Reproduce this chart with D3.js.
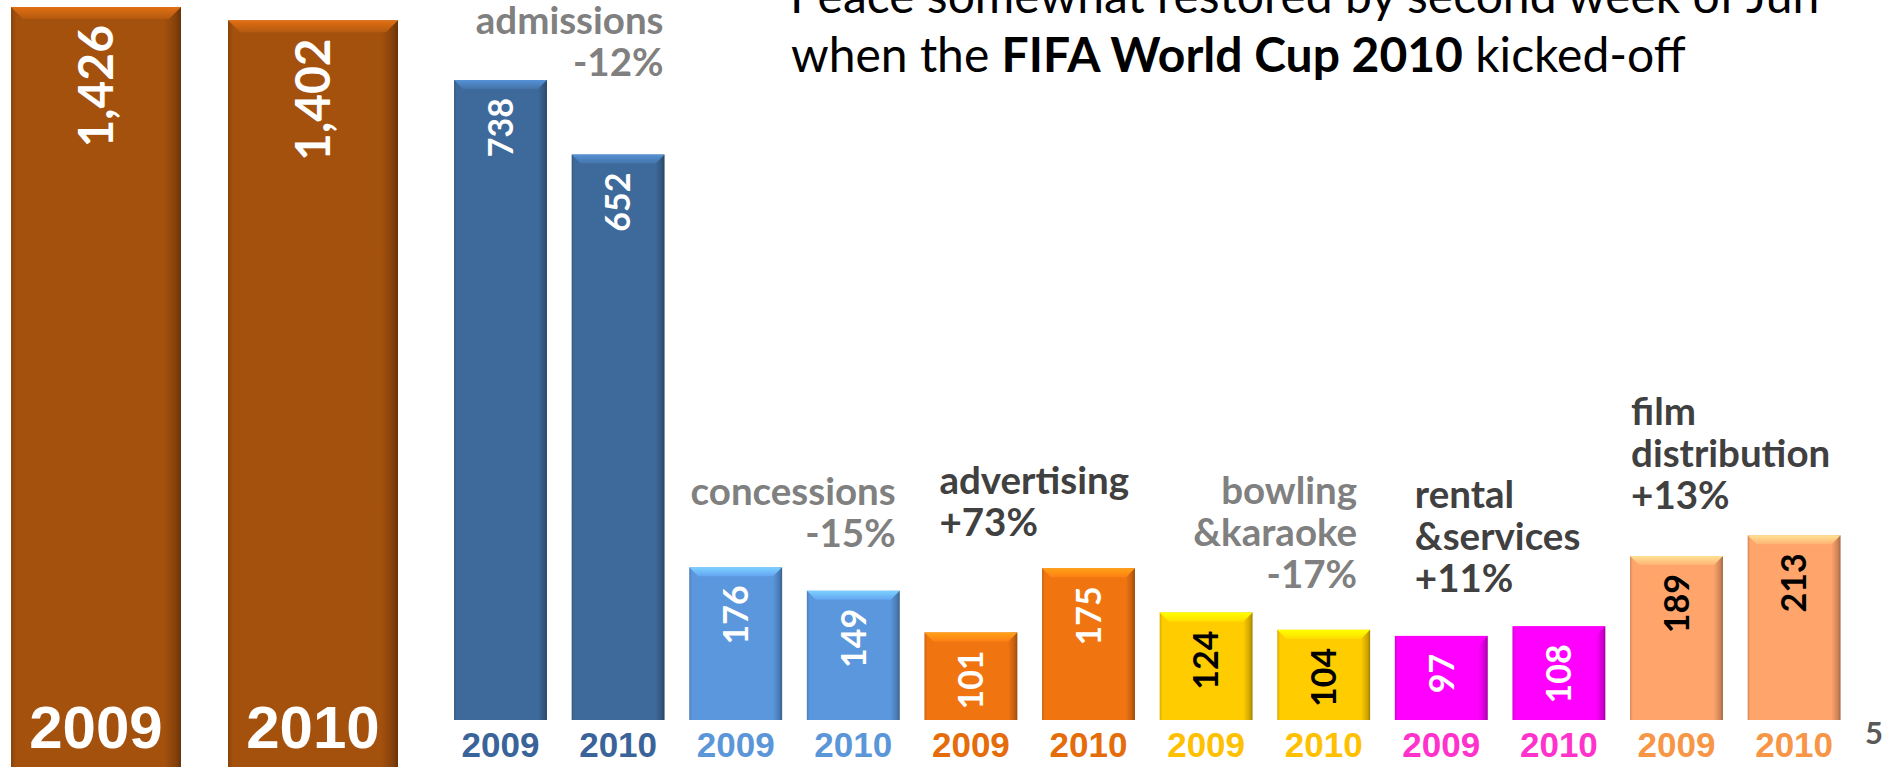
<!DOCTYPE html>
<html>
<head>
<meta charset="utf-8">
<script src="https://cdn.jsdelivr.net/npm/d3@7"></script>
<style>
html,body{margin:0;padding:0;background:#fff;}
svg{display:block;}
</style>
</head>
<body>
<svg id="chart" width="1892" height="767"></svg>
<script>
// ---------- DATA ----------
const totalYears = ["2009", "2010"];
const totalValues = [1426, 1402];

const groups = ["admissions", "concessions", "advertising", "bowling&karaoke", "rental&services", "film distribution"];
const groupLabelLines = [["admissions"], ["concessions"], ["advertising"], ["bowling", "&karaoke"], ["rental", "&services"], ["film", "distribution"]];
const groupChanges = ["-12%", "-15%", "+73%", "-17%", "+11%", "+13%"];
const years = ["2009", "2010"];
const values2009 = [738, 176, 101, 124, 97, 189];
const values2010 = [652, 149, 175, 104, 108, 213];

const titleLine1 = "Peace somewhat restored by second week of Jun";
const titleLine2 = [["when the ", false], ["FIFA World Cup 2010", true], [" kicked-off", false]];
const pageNumber = "5";

// ---------- STYLE / LAYOUT ----------
const W = 1892, H = 767;
const totalColor = "#A4510E";
const groupColors = ["#3E6A9B", "#5B97DC", "#F07511", "#FFCC00", "#FF00FF", "#FFA46B"];
const tickColors = ["#3A6499", "#5B96D9", "#E46C0A", "#FFC000", "#FF33CC", "#F79646"];
const valueColors = ["#FFFFFF", "#FFFFFF", "#FFFFFF", "#000000", "#FFFFFF", "#000000"];
const changeColors = ["#808080", "#808080", "#404040", "#808080", "#404040", "#404040"];
// annotation placement: anchor side, dx from band edge, first baseline
const annoLayout = [
  {anchor: "end", dx: -1, y: 34},
  {anchor: "end", dx: -4, y: 505},
  {anchor: "start", dx: 15, y: 494},
  {anchor: "end", dx: -13, y: 504},
  {anchor: "start", dx: 20, y: 508},
  {anchor: "start", dx: 1, y: 425}
];
const annoLineH = 42;
const bodyFont = "Lato, 'Open Sans', sans-serif";
const tickFont = "'Liberation Sans Narrow', 'Liberation Sans', sans-serif";

const svg = d3.select("#chart");
svg.append("rect").attr("width", W).attr("height", H).attr("fill", "#fff");
const defs = svg.append("defs");

function makeGradients(id, color) {
  const c = d3.color(color);
  const side = defs.append("linearGradient").attr("id", "side-" + id)
    .attr("x1", "0").attr("x2", "1").attr("y1", "0").attr("y2", "0");
  [[0, c.darker(0.5)], [0.03, c], [0.9, c], [0.97, c.darker(0.6)], [1, c.darker(1.3)]]
    .forEach(([o, col]) => side.append("stop").attr("offset", o).attr("stop-color", col + ""));
  const top = defs.append("linearGradient").attr("id", "top-" + id)
    .attr("x1", "0").attr("x2", "0").attr("y1", "0").attr("y2", "1");
  [[0, c.brighter(0.9)], [1, c.brighter(0.25)]]
    .forEach(([o, col]) => top.append("stop").attr("offset", o).attr("stop-color", col + ""));
}

function drawBar(g, x, y, w, bottom, id, bevel) {
  g.append("rect").attr("x", x).attr("y", y).attr("width", w).attr("height", bottom - y)
    .attr("fill", `url(#side-${id})`);
  g.append("polygon")
    .attr("points", [[x, y], [x + w, y], [x + w - bevel, y + bevel], [x + bevel, y + bevel]].map(p => p.join(",")).join(" "))
    .attr("fill", `url(#top-${id})`);
}

// ---------- LEFT: totals ----------
makeGradients("total", totalColor);
const xTot = d3.scaleBand().domain(totalYears).range([11, 398]).paddingInner(0.2166).paddingOuter(0);
const yTot = d3.scaleLinear().domain([0, 1426]).range([800, 7]);
const gTot = svg.append("g");
totalYears.forEach((yr, i) => {
  const x = xTot(yr), w = xTot.bandwidth(), y = yTot(totalValues[i]);
  drawBar(gTot, x, y, w, H, "total", 12);
  gTot.append("text")
    .attr("transform", `translate(${x + w / 2},${y + 18}) rotate(-90)`)
    .attr("text-anchor", "end").attr("dy", "0.36em")
    .attr("font-family", bodyFont).attr("font-weight", 700).attr("font-size", 48)
    .attr("fill", "#fff").text(d3.format(",")(totalValues[i]));
  gTot.append("text")
    .attr("x", x + w / 2).attr("y", 748).attr("text-anchor", "middle")
    .attr("font-family", "'Liberation Sans', sans-serif").attr("font-weight", 700).attr("font-size", 60)
    .attr("fill", "#fff").text(yr);
});

// ---------- RIGHT: categories ----------
groupColors.forEach((c, i) => makeGradients("g" + i, c));
const items = [];
groups.forEach((gname, gi) => {
  years.forEach((yr, yi) => {
    items.push({key: gname + "|" + yr, gi, year: yr, value: yi === 0 ? values2009[gi] : values2010[gi]});
  });
});
const x = d3.scaleBand().domain(items.map(d => d.key)).range([441.7, 1852.9]).paddingInner(0.21).paddingOuter(0.105);
const y = d3.scaleLinear().domain([0, 738]).range([720, 80]);
const gBars = svg.append("g");
items.forEach(d => {
  const bx = x(d.key), bw = x.bandwidth(), by = y(d.value);
  drawBar(gBars, bx, by, bw, y(0), "g" + d.gi, 9);
  gBars.append("text")
    .attr("transform", `translate(${bx + bw / 2},${by + 18}) rotate(-90)`)
    .attr("text-anchor", "end").attr("dy", "0.36em")
    .attr("font-family", bodyFont).attr("font-weight", 700).attr("font-size", 34)
    .attr("fill", valueColors[d.gi]).text(d3.format(",")(d.value));
});

// x axis labels (years) via d3 axis
const xAxis = d3.axisBottom(x).tickSize(0).tickPadding(0).tickFormat(k => k.split("|")[1]);
const axG = svg.append("g").attr("transform", `translate(0,${y(0)})`).call(xAxis);
axG.select(".domain").remove();
axG.selectAll(".tick text")
  .attr("y", 37).attr("dy", 0)
  .attr("font-family", tickFont).attr("font-weight", 700).attr("font-size", 35)
  .attr("fill", (k) => tickColors[groups.indexOf(k.split("|")[0])]);

// group annotations
groups.forEach((gname, gi) => {
  const L = annoLayout[gi];
  const k1 = gname + "|2009", k2 = gname + "|2010";
  const ax = L.anchor === "end" ? x(k2) + x.bandwidth() + L.dx : x(k1) + L.dx;
  const lines = groupLabelLines[gi].concat([groupChanges[gi]]);
  const t = svg.append("text")
    .attr("text-anchor", L.anchor)
    .attr("font-family", bodyFont).attr("font-weight", 700).attr("font-size", 38.5)
    .attr("fill", changeColors[gi]);
  lines.forEach((ln, li) => {
    t.append("tspan").attr("x", ax).attr("y", L.y + li * annoLineH).text(ln);
  });
});

// title (cut off at top, as in the reference)
const title = svg.append("g").attr("font-family", bodyFont).attr("font-size", 48).attr("fill", "#000");
title.append("text").attr("x", 790).attr("y", 13).text(titleLine1);
const t2 = title.append("text").attr("x", 791).attr("y", 72);
titleLine2.forEach(([s, b]) => t2.append("tspan").attr("font-weight", b ? 700 : 400).text(s));

// page number
svg.append("text").attr("x", 1883).attr("y", 744).attr("text-anchor", "end")
  .attr("font-family", bodyFont).attr("font-weight", 700).attr("font-size", 31)
  .attr("fill", "#595959").text(pageNumber);
</script>
</body>
</html>
